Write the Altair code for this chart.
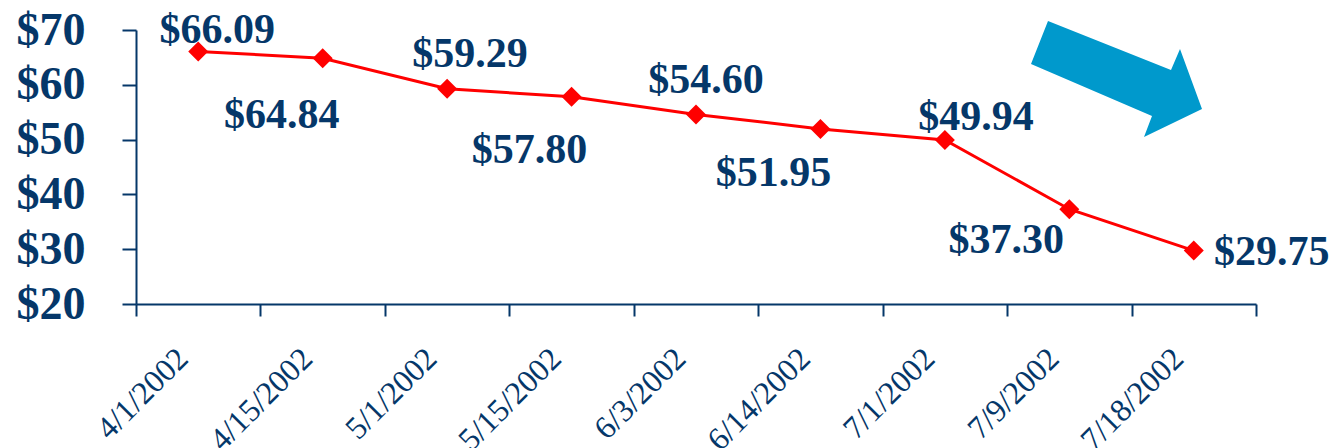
import altair as alt
import pandas as pd

dates = ["4/1/2002", "4/15/2002", "5/1/2002", "5/15/2002", "6/3/2002",
         "6/14/2002", "7/1/2002", "7/9/2002", "7/18/2002"]
prices = [66.09, 64.84, 59.29, 57.80, 54.60, 51.95, 49.94, 37.30, 29.75]
y_ticks = [20, 30, 40, 50, 60, 70]

# label placement (dx, dy in pixels, relative to the point) - styling only
label_offsets = [(19, -8), (-41, 70), (23, -22), (-42, 66), (10, -21),
                 (-47, 57), (31, -10), (-63, 44), (78, 14)]

NAVY = "#053769"
RED = "#FF0000"
ARROW = "#0099CC"
FONT = "Liberation Serif"

df = pd.DataFrame({"date": dates, "price": prices, "idx": list(range(len(dates)))})

X = alt.X("date:N", sort=dates,
          scale=alt.Scale(type="band", paddingInner=0, paddingOuter=0),
          axis=alt.Axis(title=None, labelAngle=-45, labelAlign="right",
                        labelBaseline="middle", tickBand="extent",
                        labelPadding=37, labelOffset=-16,
                        tickSize=12, labelFont=FONT, labelFontSize=32,
                        labelColor=NAVY, domainColor=NAVY, tickColor=NAVY,
                        domainWidth=2, tickWidth=2, grid=False))
Y = alt.Y("price:Q",
          scale=alt.Scale(domain=[20, 70], nice=False, zero=False),
          axis=alt.Axis(title=None, values=y_ticks, format="$.0f",
                        tickSize=14, labelPadding=37, labelFont=FONT,
                        labelFontSize=46, labelFontWeight="bold",
                        labelColor=NAVY, domainColor=NAVY, tickColor=NAVY,
                        domainWidth=2, tickWidth=2, grid=False))

base = alt.Chart(df).encode(x=X, y=Y)

line = base.mark_line(color=RED, strokeWidth=3)
points = base.mark_point(shape="diamond", filled=True, size=400,
                         color=RED, opacity=1)

label_layers = []
for i, (dx, dy) in enumerate(label_offsets):
    label_layers.append(
        base.transform_filter(alt.datum.idx == i)
        .mark_text(dx=dx, dy=dy, align="center", baseline="alphabetic",
                   font=FONT, fontSize=42, fontWeight="bold", color=NAVY)
        .encode(text=alt.Text("price:Q", format="$.2f"))
    )

arrow_path = "M -68 -58 L 55 -9 L 64 -30 L 86 30 L 28 58 L 36 37 L -85 -15 Z"
arrow = alt.Chart(pd.DataFrame({"a": [0]})).mark_point(
    shape=arrow_path, filled=True, size=4, color=ARROW, opacity=1,
    strokeWidth=0
).encode(x=alt.value(980), y=alt.value(49))

chart = alt.layer(line, points, *label_layers, arrow).properties(
    width=1120, height=274,
    background="white",
    padding={"left": 136, "top": 30, "right": 78, "bottom": 144},
    autosize=alt.AutoSizeParams(type="none"),
).configure_view(strokeWidth=0, stroke="transparent")

chart.save("out.html", embed_options={"renderer": "svg", "actions": False})
